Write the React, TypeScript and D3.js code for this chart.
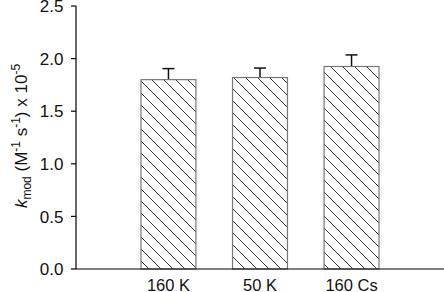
import React from "react";
import * as d3 from "d3";

const categories = ["160 K", "50 K", "160 Cs"];
const values = [1.8, 1.82, 1.925];
const errors = [0.105, 0.09, 0.11];
const yTicks = [0, 0.5, 1.0, 1.5, 2.0, 2.5];

const W = 444;
const H = 292;
const axisX = 76;
const y = d3.scaleLinear().domain([0, 2.5]).range([269, 6]);
const x = d3.scaleBand<string>().domain(categories).range([axisX, 444]).paddingInner(0.4).paddingOuter(0.71);

const font = "'Liberation Sans', Arial, Helvetica, sans-serif";

export default function App() {
  const bw = x.bandwidth();
  return (
    <svg width={W} height={H} style={{ position: "absolute", left: 0, top: 0, background: "#fff" }} fontFamily={font}>
      <defs>
        <pattern id="hatch" patternUnits="userSpaceOnUse" width={12} height={12}>
          <path d="M0,0 L12,12 M-3,9 L3,15 M9,-3 L15,3" stroke="#333" strokeWidth={1} />
        </pattern>
      </defs>
      <rect x={0} y={0} width={W} height={H} fill="#fff" />
      {categories.map((c, i) => {
        const x0 = x(c)!;
        const cx = x0 + bw / 2;
        const top = y(values[i]);
        const eTop = y(values[i] + errors[i]);
        return (
          <g key={c}>
            <line x1={cx} x2={cx} y1={top} y2={eTop} stroke="#111" strokeWidth={1.5} />
            <line x1={cx - 6} x2={cx + 6} y1={eTop} y2={eTop} stroke="#111" strokeWidth={1.5} />
            <rect x={x0} y={top} width={bw} height={y(0) - top} fill="url(#hatch)" stroke="#777" strokeWidth={1.2} />
          </g>
        );
      })}
      <line x1={axisX} x2={axisX} y1={y(2.5)} y2={y(0)} stroke="#000" strokeWidth={1.2} />
      {yTicks.map((t) => (
        <g key={t}>
          <line x1={axisX - 5} x2={axisX} y1={y(t)} y2={y(t)} stroke="#000" strokeWidth={1.2} />
          <text x={63.5} y={y(t)} dy="0.36em" textAnchor="end" fontSize={17} fill="#111">
            {t.toFixed(1)}
          </text>
        </g>
      ))}
      <line x1={axisX} x2={W} y1={y(0)} y2={y(0)} stroke="#000" strokeWidth={1.2} />
      {categories.map((c) => (
        <text key={c} x={x(c)! + bw / 2} y={290.5} textAnchor="middle" fontSize={16.5} fill="#111">
          {c}
        </text>
      ))}
      <text transform="translate(27,136) rotate(-90)" textAnchor="middle" fontSize={17} fill="#111">
        <tspan fontStyle="italic">k</tspan>
        <tspan fontSize={12} dy={4}>mod</tspan>
        <tspan dy={-4}> (M</tspan>
        <tspan fontSize={12} dy={-7}>-1</tspan>
        <tspan dy={7}> s</tspan>
        <tspan fontSize={12} dy={-7}>-1</tspan>
        <tspan dy={7}>) x 10</tspan>
        <tspan fontSize={12} dy={-7}>-5</tspan>
      </text>
    </svg>
  );
}
